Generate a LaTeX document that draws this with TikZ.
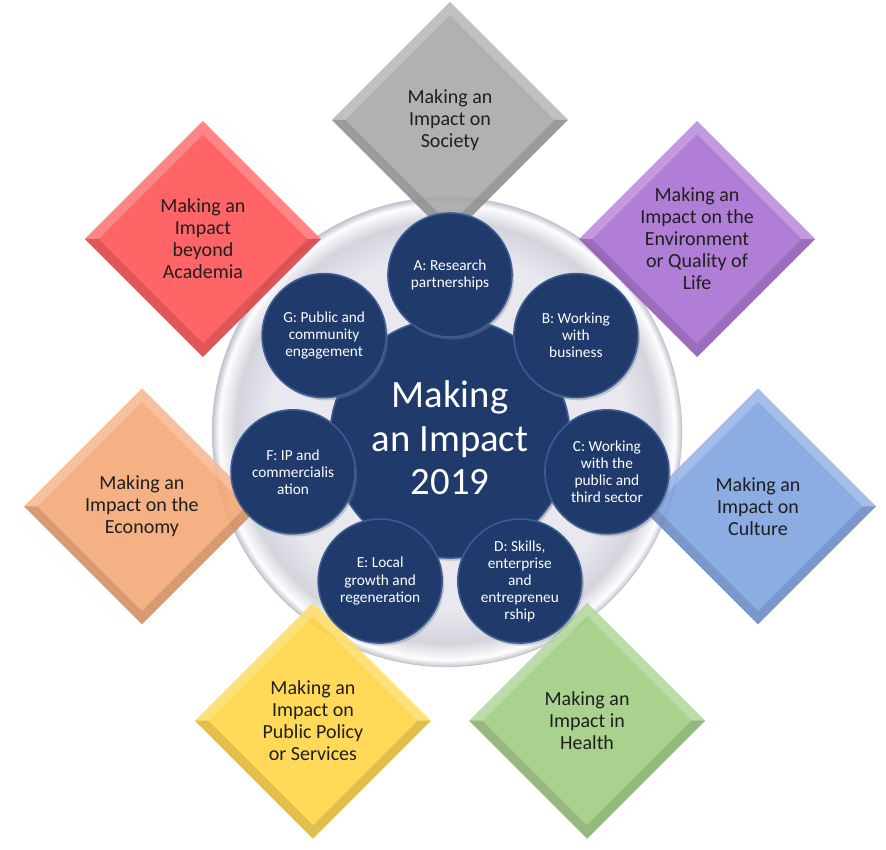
\documentclass[tikz,border=0pt]{standalone}
\usepackage{fontspec}
\setmainfont{Carlito}
\usetikzlibrary{shapes.geometric,shadows}
\definecolor{hubblue}{RGB}{32,58,108}
\definecolor{hubrim}{RGB}{60,92,148}
\definecolor{discin}{RGB}{232,232,238}
\definecolor{discband}{RGB}{212,212,222}
\definecolor{discedge}{RGB}{196,196,208}
\definecolor{societygray}{RGB}{166,166,166}
\definecolor{academiared}{RGB}{255,78,82}
\definecolor{envpurple}{RGB}{166,108,210}
\definecolor{economyorange}{RGB}{244,166,114}
\definecolor{cultureblue}{RGB}{124,160,224}
\definecolor{policyyellow}{RGB}{255,212,64}
\definecolor{healthgreen}{RGB}{158,204,128}
\pgfdeclareradialshading{discshade}{\pgfpoint{0bp}{0bp}}{color(0bp)=(discin);
  color(19bp)=(discin); color(22.5bp)=(discband); color(24.3bp)=(white!95!discin);
  color(25bp)=(discedge); color(50bp)=(discedge)}

\begin{document}
\begin{tikzpicture}[
  x=0.75pt, y=0.75pt,
  facet/.style={diamond, minimum width=177pt, minimum height=177pt,
    inner sep=0pt, outer sep=0pt, fill opacity=0.88},
  facettext/.style={align=center, font=\fontsize{15}{16.5}\selectfont,
    text=black!88},
  theme/.style={circle, minimum size=93pt, inner sep=0pt, fill=hubblue,
    draw=hubrim, line width=1.2pt, align=center, text=white,
    drop shadow={opacity=0.35, shadow xshift=1.5pt, shadow yshift=-2pt},
    font=\fontsize{11.5}{12.8}\selectfont},
  hub/.style={theme, minimum size=180pt, font=\fontsize{29}{32.5}\selectfont}
]
\useasboundingbox (-450,-414) rectangle (436,436);
\node[circle, minimum size=352pt, inner sep=0pt, shade, shading=discshade,
  draw=discedge, line width=0.6pt] (disc) at (-3,4) {};
% outer diamonds with a light upper and a dark lower bevel
\foreach \key/\ang/\col/\txt in {
  society/90/societygray/{Making an\\Impact on\\Society},
  environment/38.57/envpurple/{Making an\\Impact on the\\Environment\\or Quality of\\Life},
  culture/-12.86/cultureblue/{Making an\\Impact on\\Culture},
  health/-64.29/healthgreen/{Making an\\Impact in\\Health},
  policy/-115.71/policyyellow/{Making an\\Impact on\\Public Policy\\or Services},
  economy/-167.14/economyorange/{Making an\\Impact on the\\Economy},
  academia/141.43/academiared/{Making an\\Impact\\beyond\\Academia}}
{
  \node[facet, fill=\col] (\key) at (\ang:316) {};
  \fill[white, opacity=0.22] (\key.west) -- (\key.north) -- (\key.east)
    -- ([xshift=-10pt]\key.east) -- ([yshift=-10pt]\key.north)
    -- ([xshift=10pt]\key.west) -- cycle;
  \fill[black, opacity=0.12] (\key.west) -- (\key.south) -- (\key.east)
    -- ([xshift=-10pt]\key.east) -- ([yshift=10pt]\key.south)
    -- ([xshift=10pt]\key.west) -- cycle;
  \node[facettext] (\key-text) at (\key) {\txt};
}
\node[hub] (hub) at (0,-2) {Making\\an Impact\\2019};
\foreach \key/\ang/\txt in {
  research/90/{A: Research\\partnerships},
  business/38.57/{B: Working\\with\\business},
  thirdsector/-12.86/{C: Working\\with the\\public and\\third sector},
  skills/-64.29/{D: Skills,\\enterprise\\and\\entrepreneu\\rship},
  growth/-115.71/{E: Local\\growth and\\regeneration},
  ip/-167.14/{F: IP and\\commercialis\\ation},
  engagement/141.43/{G: Public and\\community\\engagement}}
  \node[theme] (\key) at (\ang:161) {\txt};
\end{tikzpicture}
\end{document}
